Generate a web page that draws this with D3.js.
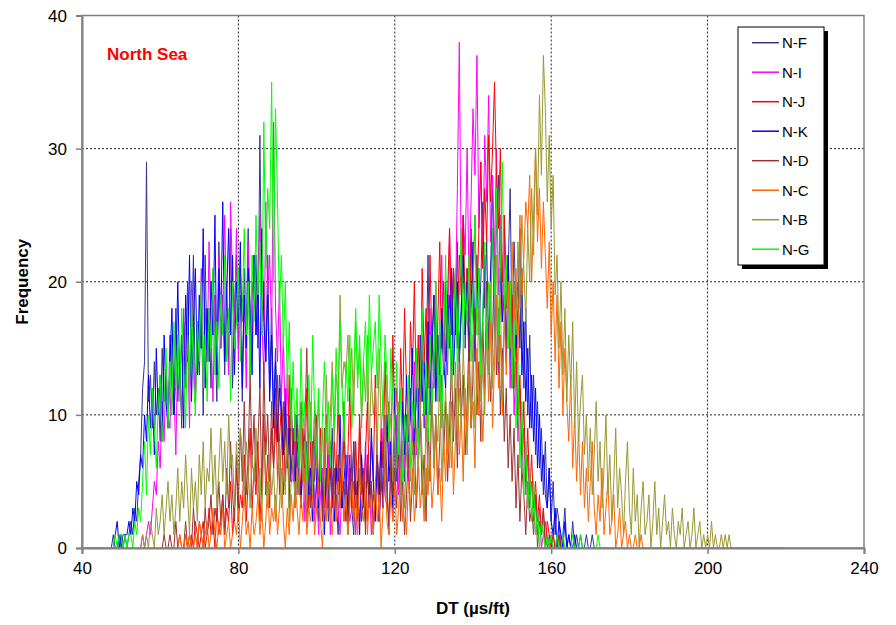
<!DOCTYPE html>
<html>
<head>
<meta charset="utf-8">
<script src="https://cdn.jsdelivr.net/npm/d3@7/dist/d3.min.js"></script>
<style>
  body { margin: 0; background: #fff; }
  svg { display: block; font-family: Arial, "Liberation Sans", sans-serif; }
  .tick text { font-size: 17px; fill: #000; }
</style>
</head>
<body>
<svg id="chart" width="896" height="625"></svg>
<script>
// histogram bins, 0.5 us/ft wide
const binStep = 0.5;
const seriesNames = ["N-F", "N-I", "N-J", "N-K", "N-D", "N-C", "N-B", "N-G"];
const seriesStart = [47, 55, 66, 48, 60, 64, 55, 40];
const xTicks = [40, 80, 120, 160, 200, 240];
const yTicks = [0, 10, 20, 30, 40];

const nF = [
  0,0,1,0,0,1,0,1,1,0, 1,2,1,3,2,5,7,12,14,29, 11,13,9,14,10,12,8,15,11,13,
  9,16,12,10,18,11,14,9,17,13, 20,12,15,22,11,16,13,19,10,22, 14,18,12,21,16,11,23,15,19,13,
  20,14,24,12,18,22,15,19,11,21, 16,24,13,20,18,22,15,31,17,20, 14,22,12,18,10,15,8,13,11,7,
  12,6,10,5,9,4,8,6,3,7, 5,2,6,4,8,3,5,2,7,4, 3,6,2,5,9,3,4,1,6,3,
  5,2,4,7,3,1,5,3,6,2, 4,2,7,3,5,1,4,6,2,5, 3,8,4,2,6,3,9,5,7,4,
  8,5,10,6,12,7,9,14,8,11, 15,9,13,22,10,16,12,18,14,11, 17,13,20,15,19,12,21,16,23,14,
  18,25,15,21,17,24,19,14,22,16, 20,26,18,23,15,21,27,19,24,28, 22,17,25,19,21,27,16,23,18,20,
  15,21,12,18,10,16,9,13,7,11, 6,9,4,8,3,6,2,5,1,3, 2,0,1,3,0,1,0,2,0,1,
  0,1,0,0,1,0,0,1,0,0
];
const nI = [
  0,1,0,1,2,1,3,5,4,8, 6,11,8,14,10,9,16,12,7,15, 13,10,18,12,16,9,20,14,11,17,
  15,21,12,18,14,23,16,11,19,13, 22,15,18,25,17,13,26,20,16,24, 14,21,17,19,12,23,18,15,22,16,
  20,25,17,13,26,19,22,16,32,18, 14,20,11,16,9,13,7,11,5,9, 4,7,3,8,2,6,5,3,7,2,
  5,1,4,6,2,3,7,1,4,2, 6,3,1,5,2,4,7,2,3,5, 1,4,2,6,3,8,2,5,1,4,
  3,7,2,5,9,4,3,8,6,2, 5,10,4,7,12,6,9,5,11,8, 14,7,12,9,16,11,8,13,18,10,
  15,20,12,17,22,14,19,13,24,16, 21,18,27,38,20,25,22,30,19,26, 33,28,37,24,29,21,31,26,34,23,
  28,22,30,19,25,17,23,15,20,12, 18,10,14,8,12,6,9,4,7,3, 5,2,4,1,3,0,1,2,0,1,
  0,1,0,0,0,1
];
const nJ = [
  0,1,0,0,1,0,2,1,0,1, 2,0,1,3,1,2,0,3,1,2, 4,1,3,2,5,1,3,6,2,4,
  3,7,2,5,9,3,6,4,8,2, 5,10,4,7,3,9,6,12,5,8, 11,4,9,6,13,5,8,3,10,7,
  4,9,6,12,3,8,5,11,7,4, 9,2,6,10,4,7,3,8,5,11, 6,3,9,4,7,12,5,2,8,4,
  10,6,3,7,11,4,8,5,13,7, 4,9,6,14,8,11,5,16,9,12, 7,15,10,18,12,8,17,13,20,11,
  16,9,21,14,18,12,22,15,19,13, 17,23,15,20,14,19,24,16,21,18, 15,22,19,25,17,21,14,23,20,25,
  18,24,29,21,27,23,31,26,30,35, 28,24,30,20,25,18,22,15,19,12, 16,10,13,7,11,5,9,4,7,3,
  5,2,4,1,3,0,2,1,0,1, 0,0,1,0,0,0
];
const nK = [
  0,1,2,0,1,0,1,1,2,1, 3,2,5,4,7,6,10,8,13,9, 12,7,15,10,13,8,16,11,9,14,
  18,10,13,20,12,16,9,19,14,22, 11,17,21,13,19,15,24,12,18,14, 20,16,25,13,21,17,26,14,19,24,
  16,22,13,20,17,23,12,19,15,21, 18,13,22,16,20,12,24,17,14,19, 11,16,9,14,8,12,10,7,11,6,
  9,5,8,4,10,6,3,7,5,8, 4,6,2,9,5,3,7,4,1,6, 3,8,5,2,6,4,10,3,5,7,
  2,6,4,8,3,5,1,7,4,2, 6,3,9,5,2,7,4,8,3,6, 10,5,8,3,12,6,9,4,11,7,
  13,8,10,15,7,12,9,16,11,14, 10,17,12,15,19,11,16,13,18,14, 12,19,15,21,13,17,20,14,18,22,
  16,20,13,18,23,15,19,21,14,17, 22,18,15,20,24,16,19,13,21,17, 19,14,22,16,12,20,15,18,24,13,
  17,11,15,9,13,8,12,6,10,5, 7,4,3,6,2,1,3,0,2,1, 0,2,0,1,0,0,1,0,0,0
];
const nD = [
  0,0,1,0,0,1,0,0,2,0, 1,0,0,2,0,1,0,3,1,0, 2,1,0,3,1,2,4,1,3,2,
  5,2,4,1,6,3,8,4,2,7, 3,9,5,11,4,7,13,6,10,5, 8,12,4,14,7,10,5,11,6,9,
  13,4,8,11,5,9,3,12,6,10, 7,4,11,5,9,15,6,3,8,5, 10,4,7,2,9,5,3,8,4,6,
  2,7,3,5,11,4,1,6,3,8, 5,2,9,4,6,1,7,3,5,2, 4,8,2,6,3,10,5,1,7,4,
  6,3,9,2,5,1,4,7,2,5, 8,3,6,10,4,7,2,9,5,12, 6,10,4,8,13,7,11,5,9,14,
  8,12,6,15,10,13,7,11,16,9, 13,18,10,14,8,17,12,20,15,11, 16,22,13,18,10,15,8,12,6,10,
  5,9,3,7,2,6,4,1,5,2, 3,1,4,0,2,1,3,0,1,0, 1,0,0,0,1,0
];
const nC = [
  0,0,1,0,0,1,0,1,0,0, 1,0,2,1,0,1,2,0,1,3, 1,0,2,1,3,0,1,2,0,1,
  2,1,3,0,2,4,1,2,0,3, 1,2,4,1,3,0,2,5,1,3, 2,4,1,3,6,2,0,3,1,4,
  2,5,3,1,4,2,6,1,3,2, 4,1,3,5,2,0,4,2,6,3, 1,4,2,5,3,7,2,4,1,3,
  5,2,4,1,6,3,2,5,1,4, 3,1,5,2,4,0,3,6,2,1, 4,2,5,1,3,6,2,4,1,5,
  3,6,2,4,7,3,5,2,6,4, 7,3,5,9,4,6,2,8,5,10, 6,11,4,8,13,7,10,5,12,8,
  14,9,11,6,15,10,13,8,12,16, 11,17,9,14,19,12,16,10,18,13, 20,15,23,17,21,14,25,19,22,26,
  24,28,20,25,30,23,27,21,26,22, 18,23,16,20,14,19,12,17,10,15, 11,8,13,6,10,5,9,4,8,3,
  6,2,5,8,3,1,4,2,6,1, 3,5,1,2,4,0,1,3,0,1, 2,0,1,0,0,1,0,0,1,0,
  0,0,0,0,0,0,0,0,0,0, 0,0,0,0,0,0,0,0,0,0, 0,0,0,0,0,0,0,0,0,0,
  0,0,0,0,0,0
];
const nB = [
  0,1,0,1,0,2,1,0,3,1, 2,4,1,3,5,2,4,1,3,6, 2,5,3,7,4,1,6,3,5,2,
  7,4,8,3,6,5,9,4,7,3, 6,9,5,8,4,10,6,7,3,8, 5,9,7,4,8,6,3,7,5,9,
  4,6,2,8,5,3,7,4,6,2, 5,8,3,6,4,9,2,5,7,3, 6,4,10,5,8,3,7,11,4,9,
  6,12,5,9,4,13,7,10,14,8, 13,11,19,12,14,13,16,12,15,10, 17,13,15,9,14,11,16,8,13,10,
  12,7,15,9,11,6,13,8,10,5, 9,6,11,4,8,3,7,10,5,8, 4,9,6,11,7,3,10,5,8,12,
  6,10,8,13,5,9,12,7,11,6, 10,14,8,12,9,15,11,7,13,10, 16,9,12,18,11,14,10,17,13,20,
  12,16,22,14,19,11,17,21,15,18, 13,20,16,23,18,25,21,17,24,20, 27,22,30,25,34,28,37,33,26,31,
  24,28,19,22,15,20,13,18,11,16, 12,17,9,14,8,11,13,7,10,5, 9,4,7,11,5,8,3,6,10,4,
  7,2,5,9,3,6,4,1,5,8, 3,1,6,2,4,0,3,5,1,2, 4,0,2,5,1,3,0,2,4,1,
  2,0,3,1,0,2,1,3,0,1, 2,0,1,3,0,1,2,0,1,0, 1,0,2,0,1,0,0,1,0,1,
  0,1,0,0,0,0,0,0,0,0, 0,0,0,0,0,0,0,0,0,0, 0,0,0,0,0,0,0,0,0,0
];
const nG = [
  0,0,0,0,0,0,0,0,0,0, 0,0,0,0,0,0,0,1,0,1, 1,0,1,0,1,1,0,2,1,3,
  2,5,8,4,10,7,12,9,6,11, 13,8,11,15,9,14,10,17,12,16, 11,18,14,9,16,12,19,13,10,17,
  14,20,12,16,11,18,15,21,13,17, 12,19,16,22,14,18,11,20,15,17, 21,14,18,24,16,20,13,22,17,25,
  19,23,16,32,21,27,24,35,20,33, 26,18,22,15,20,12,17,9,14,8, 12,6,15,9,11,5,13,8,16,10,
  7,12,5,10,14,8,11,6,13,9, 15,10,17,12,8,14,11,16,9,13, 18,12,16,10,14,17,11,19,13,15,
  17,12,19,14,10,16,13,8,15,11, 9,14,7,12,5,10,8,13,6,11, 9,15,7,12,18,10,14,8,16,11,
  13,20,11,17,9,15,22,14,18,12, 16,21,13,19,24,15,20,17,22,14, 19,25,16,21,13,18,23,15,20,17,
  24,19,27,16,21,29,18,22,15,20, 12,17,9,14,6,11,4,8,3,6, 2,5,1,3,0,2,1,0,1,0,
  1,0,0,1,0,0,1,0,0,0, 0,1,0,0,0,1,0,0,0,0, 0,0,0,0,1,0,0,0,0,0,
  0,0,0,0,0,0,0,0,0,0
];
const seriesValues = [nF, nI, nJ, nK, nD, nC, nB, nG];
const colors = ["#333399", "#FF00FF", "#FF0000", "#0000FF", "#993333", "#FF6600", "#999933", "#00FF00"];

const margin = {top: 15.5, right: 32, bottom: 77, left: 82};
const W = 896, H = 625;
const width = W - margin.left - margin.right;
const height = H - margin.top - margin.bottom;

const svg = d3.select("#chart");
const g = svg.append("g").attr("transform", `translate(${margin.left},${margin.top})`);

const x = d3.scaleLinear().domain([40, 240]).range([0, width]);
const y = d3.scaleLinear().domain([0, 40]).range([height, 0]);

// grid (dotted)
g.append("g").selectAll("line").data(xTicks.slice(1, -1)).join("line")
  .attr("x1", d => x(d)).attr("x2", d => x(d)).attr("y1", 0).attr("y2", height)
  .attr("stroke", "#222").attr("stroke-dasharray", "2,2");
g.append("g").selectAll("line").data(yTicks.slice(1, -1)).join("line")
  .attr("y1", d => y(d)).attr("y2", d => y(d)).attr("x1", 0).attr("x2", width)
  .attr("stroke", "#222").attr("stroke-dasharray", "2,2");

// series
const line = d3.line().x(d => x(d[0])).y(d => y(d[1]));
seriesValues.forEach((vals, k) => {
  const pts = vals.map((v, i) => [seriesStart[k] + i * binStep, v]);
  g.append("path").datum(pts)
    .attr("fill", "none").attr("stroke", colors[k]).attr("stroke-width", 1)
    .attr("d", line);
});

// frame
g.append("rect").attr("width", width).attr("height", height)
  .attr("fill", "none").attr("stroke", "#808080").attr("stroke-width", 1.5);

// axes
const xAxis = g.append("g").attr("transform", `translate(0,${height})`)
  .call(d3.axisBottom(x).tickValues(xTicks).tickSize(6).tickPadding(8));
const yAxis = g.append("g")
  .call(d3.axisLeft(y).tickValues(yTicks).tickSize(6).tickPadding(9));
[xAxis, yAxis].forEach(a => {
  a.select(".domain").attr("stroke", "#808080").attr("stroke-width", 2);
  a.selectAll(".tick line").attr("stroke", "#808080").attr("stroke-width", 1.5);
  a.selectAll(".tick text").style("font-family", "Arial, 'Liberation Sans', sans-serif");
});
yAxis.selectAll(".tick text").attr("dy", "0.35em");

// titles
svg.append("text").attr("x", margin.left + width / 2).attr("y", 614)
  .attr("text-anchor", "middle").attr("font-size", 17).attr("font-weight", "bold")
  .text("DT (\u00b5s/ft)");
svg.append("text").attr("transform", `translate(28,${margin.top + height / 2}) rotate(-90)`)
  .attr("text-anchor", "middle").attr("font-size", 17).attr("font-weight", "bold")
  .text("Frequency");
svg.append("text").attr("x", 107).attr("y", 59.5)
  .attr("font-size", 17).attr("font-weight", "bold").attr("fill", "#FF0000")
  .text("North Sea");

// legend
const lg = svg.append("g").attr("transform", "translate(738,27)");
lg.append("rect").attr("x", 4).attr("y", 4).attr("width", 86).attr("height", 238).attr("fill", "#000");
lg.append("rect").attr("width", 86).attr("height", 238).attr("fill", "#fff").attr("stroke", "#000").attr("stroke-width", 1);
const item = lg.selectAll(".item").data(seriesNames).join("g")
  .attr("transform", (d, i) => `translate(0,${15.7 + i * 29.5})`);
item.append("line").attr("x1", 14).attr("x2", 41).attr("stroke", (d, i) => colors[i]).attr("stroke-width", 1.5);
item.append("text").attr("x", 44).attr("dy", "0.36em").attr("font-size", 15).text(d => d);
</script>
</body>
</html>
